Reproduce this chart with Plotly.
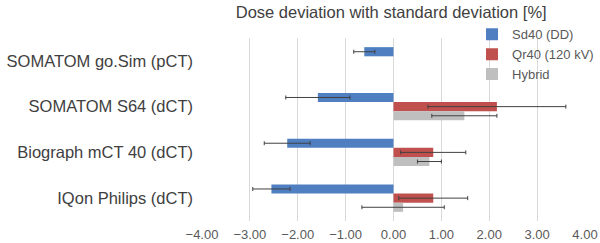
import plotly.graph_objects as go

categories = ["SOMATOM go.Sim (pCT)", "SOMATOM S64 (dCT)", "Biograph mCT 40 (dCT)", "IQon Philips (dCT)"]
series_names = ["Sd40 (DD)", "Qr40 (120 kV)", "Hybrid"]
sd40 = [-0.61, -1.58, -2.22, -2.55]
sd40_err = [0.22, 0.67, 0.48, 0.39]
qr40 = [None, 2.16, 0.83, 0.83]
qr40_err = [None, 1.44, 0.68, 0.72]
hybrid = [None, 1.48, 0.75, 0.20]
hybrid_err = [None, 0.68, 0.25, 0.86]
colors = ["#4F7EC1", "#C0504D", "#BFBFBF"]
tick_vals = [-4, -3, -2, -1, 0, 1, 2, 3, 4]

fig = go.Figure()
for name, vals, errs, col in zip(series_names, [sd40, qr40, hybrid], [sd40_err, qr40_err, hybrid_err], colors):
    fig.add_trace(go.Bar(
        y=categories, x=vals, name=name, orientation="h",
        marker=dict(color=col, line=dict(width=0)),
        error_x=dict(type="data", array=errs, visible=True, color="#404040", thickness=1, width=2),
    ))

fig.update_layout(
    width=600, height=243,
    margin=dict(l=202, r=15, t=38, b=22, autoexpand=False),
    paper_bgcolor="white", plot_bgcolor="white",
    barmode="group", bargap=0.4, bargroupgap=0,
    font=dict(family="Liberation Sans, Arial, sans-serif", color="#404040"),
    title=dict(text="Dose deviation with standard deviation [%]", xref="container", yref="container",
               x=0.652, y=0.95, xanchor="center", yanchor="middle",
               font=dict(size=16.5, color="#404040")),
    legend=dict(x=0.705, y=1.102, xanchor="left", yanchor="top", bgcolor="rgba(0,0,0,0)",
                font=dict(size=13, color="#595959"), tracegroupgap=0),
    showlegend=True,
)
fig.update_xaxes(range=[-4, 4], tickvals=tick_vals, tickformat=".2f", showgrid=True,
                 gridcolor="#D9D9D9", gridwidth=1, zeroline=False, showline=False,
                 tickfont=dict(size=13, color="#595959"), ticks="", ticklabelstandoff=4)
fig.update_yaxes(autorange="reversed", showgrid=False, zeroline=False, showline=False,
                 tickfont=dict(size=16.5, color="#404040"), ticks="", ticklabelstandoff=8)

fig.write_html("out.html")
